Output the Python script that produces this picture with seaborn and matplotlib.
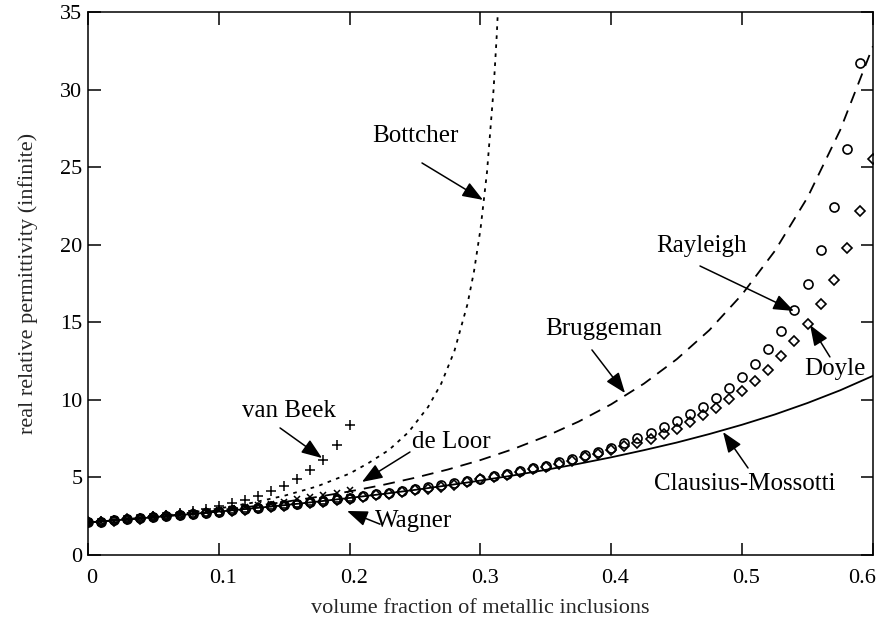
import numpy as np
import pandas as pd
import matplotlib
matplotlib.use("Agg")
import matplotlib.pyplot as plt
import matplotlib.transforms as mtransforms
import seaborn as sns

# ---- data: effective real permittivity vs volume fraction of metallic inclusions ----
# marker series sampled every 0.01
ray_x = np.linspace(0.0, 0.59, 60)
rayleigh = [2.10, 2.16, 2.23, 2.30, 2.36, 2.43, 2.50, 2.57, 2.65, 2.72,
            2.80, 2.88, 2.96, 3.04, 3.13, 3.22, 3.31, 3.40, 3.49, 3.59,
            3.69, 3.80, 3.91, 4.02, 4.13, 4.25, 4.38, 4.51, 4.64, 4.78,
            4.92, 5.07, 5.24, 5.41, 5.59, 5.77, 5.98, 6.19, 6.42, 6.66,
            6.93, 7.21, 7.52, 7.85, 8.22, 8.62, 9.07, 9.56, 10.12, 10.75,
            11.47, 12.30, 13.27, 14.41, 15.80, 17.49, 19.64, 22.42, 26.2, 31.7]

doyle_x = np.linspace(0.0, 0.60, 61)
doyle = [2.10, 2.16, 2.22, 2.29, 2.35, 2.42, 2.49, 2.56, 2.63, 2.70,
         2.78, 2.85, 2.93, 3.01, 3.09, 3.18, 3.26, 3.35, 3.44, 3.54,
         3.63, 3.73, 3.84, 3.94, 4.05, 4.16, 4.28, 4.40, 4.52, 4.70,
         4.88, 5.03, 5.19, 5.35, 5.52, 5.70, 5.89, 6.09, 6.30, 6.52,
         6.75, 7.00, 7.25, 7.50, 7.80, 8.10, 8.55, 9.05, 9.50, 10.05,
         10.60, 11.20, 11.95, 12.80, 13.80, 14.90, 16.20, 17.70, 19.80, 22.20,
         25.50]

low_x = np.linspace(0.0, 0.20, 21)
van_beek = [2.10, 2.17, 2.24, 2.31, 2.40, 2.49, 2.60, 2.71, 2.84, 2.99,
            3.15, 3.34, 3.55, 3.81, 4.10, 4.46, 4.90, 5.45, 6.15, 7.09, 8.40]
de_loor = [2.10, 2.16, 2.22, 2.29, 2.36, 2.44, 2.52, 2.60, 2.69, 2.78,
           2.88, 2.98, 3.09, 3.20, 3.32, 3.45, 3.58, 3.72, 3.87, 4.03, 4.20]
wagner = [2.10, 2.16, 2.23, 2.30, 2.36, 2.43, 2.50, 2.57, 2.65, 2.72,
          2.80, 2.88, 2.96, 3.04, 3.13, 3.21, 3.30, 3.39, 3.48, 3.58, 3.68]

# curve series
curve_x = np.linspace(0.0, 0.60, 25)
clausius = [2.10, 2.26, 2.43, 2.61, 2.80, 3.00, 3.21, 3.44, 3.68, 3.93,
            4.20, 4.49, 4.80, 5.13, 5.49, 5.88, 6.30, 6.76, 7.25, 7.80,
            8.40, 9.06, 9.80, 10.62, 11.55]
bruggeman = [2.10, 2.27, 2.45, 2.65, 2.88, 3.13, 3.42, 3.74, 4.10, 4.51,
             4.98, 5.51, 6.12, 6.83, 7.65, 8.60, 9.72, 11.05, 12.62, 14.50,
             16.80, 19.60, 23.05, 27.40, 32.80]

bott_x = [0.0, 0.025, 0.05, 0.075, 0.10, 0.125, 0.15, 0.175, 0.20, 0.215,
          0.23, 0.245, 0.26, 0.27, 0.28, 0.29, 0.295, 0.30, 0.305, 0.31,
          0.3125, 0.315]
bottcher = [2.10, 2.27, 2.47, 2.70, 3.00, 3.36, 3.82, 4.42, 5.25, 5.96,
            6.77, 7.92, 9.55, 11.05, 13.13, 16.15, 18.26, 21.0, 24.7, 30.0,
            33.6, 38.2]

x_ticks = [0, 0.1, 0.2, 0.3, 0.4, 0.5, 0.6]
x_tick_labels = ["0", "0.1", "0.2", "0.3", "0.4", "0.5", "0.6"]
y_ticks = [0, 5, 10, 15, 20, 25, 30, 35]

# label text, text anchor (baseline centre), arrow tail, arrow tip
labels = [
    ("Bottcher", (0.2505, 26.6), (0.2553, 25.27), (0.3019, 22.89)),
    ("Rayleigh", (0.4693, 19.54), (0.4678, 18.63), (0.5396, 15.73)),
    ("Bruggeman", (0.3944, 14.18), (0.3852, 13.22), (0.4105, 10.44)),
    ("Doyle", (0.5710, 11.60), (0.5671, 12.77), (0.5519, 14.83)),
    ("Clausius-Mossotti", (0.5020, 4.19), (0.5045, 5.61), (0.4854, 7.93)),
    ("van Beek", (0.1536, 8.90), (0.1468, 8.19), (0.1789, 6.25)),
    ("de Loor", (0.2780, 6.90), (0.2461, 6.64), (0.2094, 4.71)),
    ("Wagner", (0.2485, 1.80), (0.2232, 1.99), (0.1980, 2.84)),
]

# ---- style ----
sns.set_theme(style="ticks")
plt.rcParams["font.family"] = ["Liberation Serif", "DejaVu Serif"]
plt.rcParams["axes.linewidth"] = 1.1

fig = plt.figure(figsize=(8.8, 6.2), dpi=100)
ax = fig.add_axes([0.100, 0.1048, 0.892, 0.8758])

line_kw = dict(ax=ax, color="black", estimator=None, sort=False, legend=False)

sns.lineplot(x=curve_x, y=clausius, lw=1.3, **line_kw)
sns.lineplot(x=curve_x, y=bruggeman, lw=1.3, **line_kw).lines[-1].set_dashes((6.5, 4.5))
sns.lineplot(x=bott_x, y=bottcher, lw=1.3, **line_kw).lines[-1].set_dashes((2.0, 3.0))

mk = dict(linestyle="", markeredgecolor="black", markerfacecolor="none", **line_kw)
sns.lineplot(x=low_x, y=wagner, marker="s", markersize=5, markeredgewidth=1.2, **mk)
sns.lineplot(x=low_x, y=de_loor, marker="x", markersize=5, markeredgewidth=1.1, **mk)
sns.lineplot(x=low_x, y=van_beek, marker="+", markersize=7, markeredgewidth=1.1, **mk)
sns.lineplot(x=doyle_x, y=doyle, marker="D", markersize=5.5, markeredgewidth=1.2, **mk)
sns.lineplot(x=ray_x, y=rayleigh, marker="o", markersize=6.5, markeredgewidth=1.2, **mk)

for text, (tx, ty), tail, tip in labels:
    ax.text(tx, ty, text, ha="center", va="baseline", fontsize=18, color="black")
    ax.annotate("", xy=tip, xytext=tail,
                arrowprops=dict(arrowstyle="-|>,head_length=0.45,head_width=0.17",
                                mutation_scale=28, lw=1.1, color="black",
                                shrinkA=0, shrinkB=0))

ax.set_xlim(0, 0.6)
ax.set_ylim(0, 35)
ax.set_xticks(x_ticks)
ax.set_xticklabels(x_tick_labels)
ax.set_yticks(y_ticks)
ax.tick_params(direction="in", length=9, width=1.1, top=True, right=True,
               labelsize=16, colors="black")
ax.tick_params(axis="x", pad=10)
ax.tick_params(axis="y", pad=4)
ax.set_xlabel("volume fraction of metallic inclusions", fontsize=16, labelpad=8)
ax.set_ylabel("real relative permittivity (infinite)", fontsize=16, labelpad=16)
for s in ax.spines.values():
    s.set_color("black")

# nudge the x tick labels slightly right, and keep the last one inside the figure
xlabels = ax.get_xticklabels()
for i, lab in enumerate(xlabels):
    dx = -8 / 72 if i == len(xlabels) - 1 else 3 / 72
    lab.set_transform(lab.get_transform() +
                      mtransforms.ScaledTranslation(dx, 0, fig.dpi_scale_trans))

fig.savefig("out.png", dpi=100)
